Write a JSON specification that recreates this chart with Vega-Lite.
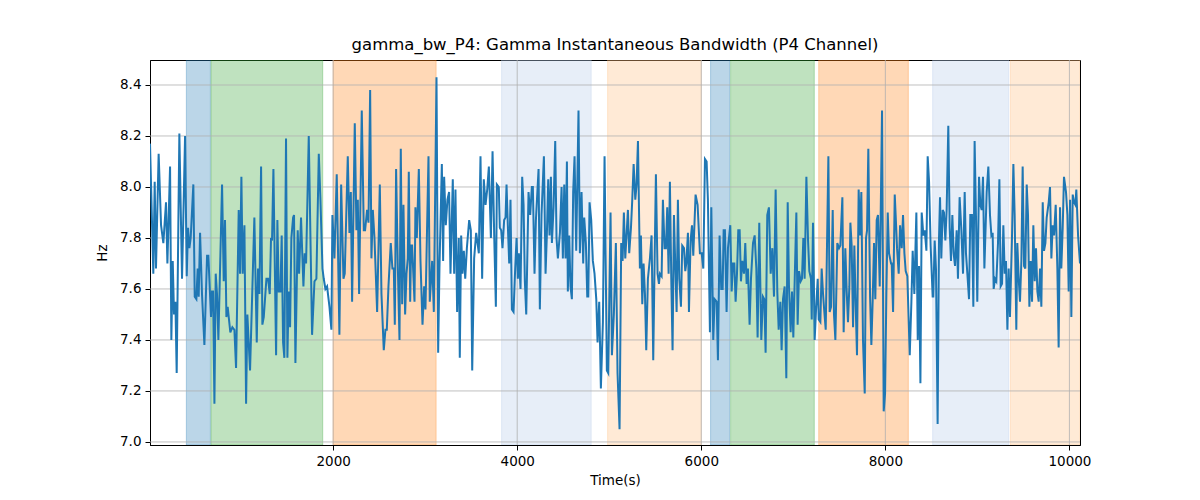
{
  "$schema": "https://vega.github.io/schema/vega-lite/v6.json",
  "width": 930,
  "height": 385,
  "autosize": "none",
  "padding": {"left": 150, "top": 60, "right": 120, "bottom": 55},
  "background": "white",
  "title": {
    "text": "gamma_bw_P4: Gamma Instantaneous Bandwidth (P4 Channel)",
    "font": "DejaVu Sans",
    "fontSize": 16.5,
    "fontWeight": "normal",
    "color": "black",
    "offset": 6
  },
  "config": {
    "view": {"stroke": "black", "strokeWidth": 1},
    "axis": {
      "labelFont": "DejaVu Sans",
      "labelFontSize": 13.5,
      "labelColor": "black",
      "titleFont": "DejaVu Sans",
      "titleFontSize": 13.5,
      "titleFontWeight": "normal",
      "titleColor": "black",
      "tickColor": "black",
      "tickSize": 5,
      "domainColor": "black",
      "grid": false
    }
  },
  "datasets": {
    "bands": [
      {"start": 405, "end": 666, "phase": "a"},
      {"start": 673, "end": 1887, "phase": "b"},
      {"start": 2000, "end": 3119, "phase": "c"},
      {"start": 3830, "end": 4804, "phase": "d"},
      {"start": 4982, "end": 6000, "phase": "e"},
      {"start": 6101, "end": 6308, "phase": "a"},
      {"start": 6319, "end": 7228, "phase": "b"},
      {"start": 7276, "end": 8250, "phase": "c"},
      {"start": 8514, "end": 9340, "phase": "d"},
      {"start": 9358, "end": 10115, "phase": "e"}
    ],
    "xgrid": [{"g": 2000}, {"g": 4000}, {"g": 6000}, {"g": 8000}, {"g": 10000}],
    "ygrid": [{"g": 7.0}, {"g": 7.2}, {"g": 7.4}, {"g": 7.6}, {"g": 7.8}, {"g": 8.0}, {"g": 8.2}, {"g": 8.4}],
    "series": [
      {"t":10,"v":8.17},{"t":46,"v":7.66},{"t":61,"v":8.02},{"t":75,"v":7.68},{"t":104,"v":8.13},{"t":130,"v":7.85},{"t":155,"v":7.78},{"t":184,"v":7.94},{"t":199,"v":7.70},{"t":228,"v":8.08},
      {"t":242,"v":7.40},{"t":257,"v":7.71},{"t":271,"v":7.50},{"t":286,"v":7.55},{"t":300,"v":7.27},{"t":329,"v":8.21},{"t":358,"v":7.64},{"t":391,"v":8.20},{"t":409,"v":7.65},{"t":423,"v":7.84},
      {"t":438,"v":7.76},{"t":452,"v":7.80},{"t":481,"v":8.01},{"t":496,"v":7.57},{"t":514,"v":7.56},{"t":528,"v":7.68},{"t":539,"v":7.57},{"t":554,"v":7.82},{"t":575,"v":7.58},{"t":601,"v":7.38},
      {"t":630,"v":7.73},{"t":644,"v":7.73},{"t":673,"v":7.49},{"t":684,"v":7.59},{"t":695,"v":7.59},{"t":710,"v":7.15},{"t":724,"v":7.66},{"t":738,"v":7.58},{"t":753,"v":7.40},{"t":793,"v":8.01},
      {"t":811,"v":7.63},{"t":825,"v":7.87},{"t":840,"v":7.49},{"t":854,"v":7.53},{"t":883,"v":7.43},{"t":905,"v":7.45},{"t":927,"v":7.44},{"t":945,"v":7.29},{"t":974,"v":7.91},{"t":988,"v":7.66},
      {"t":1003,"v":8.04},{"t":1017,"v":7.66},{"t":1036,"v":7.85},{"t":1054,"v":7.15},{"t":1068,"v":7.50},{"t":1097,"v":7.28},{"t":1144,"v":7.88},{"t":1170,"v":7.39},{"t":1184,"v":7.68},{"t":1199,"v":7.58},
      {"t":1217,"v":8.08},{"t":1231,"v":7.46},{"t":1246,"v":7.49},{"t":1275,"v":7.64},{"t":1293,"v":7.64},{"t":1311,"v":7.58},{"t":1325,"v":7.80},{"t":1336,"v":7.79},{"t":1351,"v":8.07},{"t":1380,"v":7.34},
      {"t":1394,"v":7.87},{"t":1409,"v":7.59},{"t":1427,"v":7.59},{"t":1441,"v":7.81},{"t":1456,"v":7.39},{"t":1470,"v":7.33},{"t":1488,"v":8.19},{"t":1503,"v":7.33},{"t":1517,"v":7.59},{"t":1532,"v":7.45},
      {"t":1546,"v":7.80},{"t":1565,"v":7.88},{"t":1575,"v":7.89},{"t":1590,"v":7.31},{"t":1615,"v":7.83},{"t":1630,"v":7.66},{"t":1651,"v":7.88},{"t":1677,"v":7.61},{"t":1691,"v":7.74},{"t":1706,"v":7.70},
      {"t":1735,"v":8.20},{"t":1771,"v":7.42},{"t":1797,"v":7.63},{"t":1818,"v":7.64},{"t":1844,"v":8.13},{"t":1862,"v":7.95},{"t":1884,"v":7.68},{"t":1898,"v":7.64},{"t":1916,"v":7.60},{"t":1934,"v":7.61},
      {"t":1960,"v":7.53},{"t":1981,"v":7.44},{"t":1992,"v":7.89},{"t":2014,"v":7.72},{"t":2039,"v":8.05},{"t":2068,"v":7.42},{"t":2087,"v":8.01},{"t":2112,"v":7.64},{"t":2126,"v":7.66},{"t":2159,"v":8.12},
      {"t":2177,"v":7.82},{"t":2192,"v":7.98},{"t":2206,"v":7.55},{"t":2235,"v":8.25},{"t":2253,"v":7.83},{"t":2268,"v":7.95},{"t":2282,"v":7.58},{"t":2311,"v":8.30},{"t":2333,"v":7.83},{"t":2347,"v":7.83},
      {"t":2369,"v":7.91},{"t":2384,"v":7.86},{"t":2402,"v":8.38},{"t":2416,"v":7.72},{"t":2431,"v":7.91},{"t":2449,"v":7.80},{"t":2478,"v":7.51},{"t":2507,"v":8.01},{"t":2525,"v":7.58},{"t":2550,"v":7.36},
      {"t":2568,"v":7.44},{"t":2583,"v":7.44},{"t":2601,"v":7.61},{"t":2626,"v":7.78},{"t":2644,"v":7.68},{"t":2659,"v":7.68},{"t":2670,"v":7.46},{"t":2684,"v":8.07},{"t":2702,"v":7.70},{"t":2721,"v":7.40},
      {"t":2735,"v":8.15},{"t":2750,"v":7.54},{"t":2764,"v":7.93},{"t":2782,"v":7.50},{"t":2797,"v":7.66},{"t":2811,"v":7.72},{"t":2822,"v":8.06},{"t":2837,"v":7.55},{"t":2847,"v":7.77},{"t":2858,"v":7.77},
      {"t":2884,"v":7.55},{"t":2894,"v":7.92},{"t":2909,"v":7.80},{"t":2931,"v":8.07},{"t":2949,"v":7.71},{"t":2971,"v":7.46},{"t":2989,"v":7.61},{"t":3003,"v":7.52},{"t":3036,"v":8.12},{"t":3050,"v":7.55},
      {"t":3076,"v":7.71},{"t":3094,"v":7.51},{"t":3123,"v":8.43},{"t":3141,"v":7.35},{"t":3155,"v":7.68},{"t":3181,"v":8.09},{"t":3195,"v":7.71},{"t":3206,"v":8.04},{"t":3224,"v":7.85},{"t":3242,"v":7.95},
      {"t":3260,"v":7.98},{"t":3275,"v":7.66},{"t":3300,"v":8.03},{"t":3315,"v":7.66},{"t":3329,"v":7.99},{"t":3347,"v":7.51},{"t":3365,"v":7.80},{"t":3376,"v":7.33},{"t":3391,"v":7.81},{"t":3405,"v":7.66},
      {"t":3420,"v":7.75},{"t":3435,"v":7.64},{"t":3453,"v":7.76},{"t":3478,"v":7.87},{"t":3496,"v":7.83},{"t":3511,"v":7.28},{"t":3532,"v":7.72},{"t":3554,"v":7.82},{"t":3569,"v":7.78},{"t":3583,"v":7.74},
      {"t":3601,"v":8.12},{"t":3619,"v":7.64},{"t":3637,"v":8.03},{"t":3656,"v":7.93},{"t":3674,"v":7.99},{"t":3692,"v":8.08},{"t":3714,"v":7.80},{"t":3732,"v":8.14},{"t":3750,"v":7.81},{"t":3768,"v":7.53},
      {"t":3779,"v":8.01},{"t":3800,"v":8.00},{"t":3811,"v":7.84},{"t":3826,"v":7.83},{"t":3840,"v":7.76},{"t":3858,"v":7.87},{"t":3873,"v":7.88},{"t":3884,"v":8.01},{"t":3898,"v":7.85},{"t":3913,"v":7.70},
      {"t":3927,"v":7.95},{"t":3942,"v":7.52},{"t":3960,"v":7.51},{"t":3978,"v":7.68},{"t":3993,"v":7.80},{"t":4007,"v":7.64},{"t":4018,"v":7.74},{"t":4036,"v":7.60},{"t":4054,"v":8.04},{"t":4069,"v":7.93},
      {"t":4083,"v":7.63},{"t":4098,"v":7.50},{"t":4123,"v":7.98},{"t":4141,"v":7.89},{"t":4159,"v":8.00},{"t":4170,"v":8.00},{"t":4188,"v":7.66},{"t":4203,"v":7.87},{"t":4232,"v":8.07},{"t":4246,"v":7.52},
      {"t":4264,"v":7.89},{"t":4290,"v":8.12},{"t":4308,"v":7.66},{"t":4322,"v":7.81},{"t":4337,"v":8.03},{"t":4351,"v":7.81},{"t":4366,"v":8.04},{"t":4377,"v":7.78},{"t":4395,"v":7.92},{"t":4413,"v":8.18},
      {"t":4427,"v":7.80},{"t":4442,"v":7.72},{"t":4464,"v":7.82},{"t":4482,"v":8.00},{"t":4496,"v":7.72},{"t":4511,"v":8.01},{"t":4525,"v":7.72},{"t":4540,"v":8.10},{"t":4550,"v":7.59},{"t":4565,"v":7.81},
      {"t":4579,"v":7.61},{"t":4594,"v":7.56},{"t":4608,"v":7.98},{"t":4623,"v":8.12},{"t":4641,"v":7.75},{"t":4666,"v":8.30},{"t":4681,"v":7.74},{"t":4699,"v":7.98},{"t":4717,"v":7.70},{"t":4728,"v":7.88},
      {"t":4746,"v":7.78},{"t":4761,"v":7.57},{"t":4772,"v":7.57},{"t":4786,"v":7.94},{"t":4804,"v":7.87},{"t":4822,"v":7.71},{"t":4840,"v":7.66},{"t":4859,"v":7.56},{"t":4873,"v":7.39},{"t":4891,"v":7.55},
      {"t":4909,"v":7.21},{"t":4931,"v":7.47},{"t":4949,"v":8.12},{"t":4974,"v":7.28},{"t":4989,"v":7.27},{"t":5014,"v":7.90},{"t":5029,"v":7.34},{"t":5050,"v":7.50},{"t":5072,"v":7.78},{"t":5090,"v":7.27},
      {"t":5112,"v":7.05},{"t":5130,"v":7.78},{"t":5145,"v":7.71},{"t":5159,"v":7.90},{"t":5174,"v":7.72},{"t":5188,"v":7.81},{"t":5203,"v":7.91},{"t":5217,"v":7.74},{"t":5236,"v":7.84},{"t":5250,"v":7.95},
      {"t":5265,"v":8.09},{"t":5283,"v":7.95},{"t":5297,"v":8.01},{"t":5312,"v":8.18},{"t":5333,"v":7.68},{"t":5344,"v":7.81},{"t":5359,"v":7.54},{"t":5373,"v":7.70},{"t":5388,"v":7.58},{"t":5402,"v":7.36},
      {"t":5420,"v":7.64},{"t":5442,"v":7.72},{"t":5460,"v":7.81},{"t":5478,"v":7.32},{"t":5493,"v":7.71},{"t":5507,"v":8.05},{"t":5525,"v":7.66},{"t":5540,"v":7.62},{"t":5551,"v":7.66},{"t":5569,"v":7.65},
      {"t":5583,"v":7.95},{"t":5601,"v":7.76},{"t":5616,"v":7.76},{"t":5630,"v":7.92},{"t":5645,"v":7.66},{"t":5659,"v":8.02},{"t":5674,"v":7.64},{"t":5688,"v":7.36},{"t":5703,"v":7.89},{"t":5717,"v":7.70},
      {"t":5732,"v":7.51},{"t":5746,"v":7.95},{"t":5761,"v":7.64},{"t":5779,"v":7.53},{"t":5793,"v":7.77},{"t":5812,"v":7.76},{"t":5826,"v":7.67},{"t":5837,"v":7.70},{"t":5855,"v":7.82},{"t":5866,"v":7.51},
      {"t":5884,"v":7.79},{"t":5899,"v":7.85},{"t":5913,"v":7.73},{"t":5938,"v":7.97},{"t":5960,"v":7.93},{"t":5985,"v":7.74},{"t":6004,"v":7.74},{"t":6022,"v":7.68},{"t":6040,"v":8.11},{"t":6058,"v":8.10},
      {"t":6072,"v":7.95},{"t":6094,"v":7.43},{"t":6109,"v":7.92},{"t":6130,"v":7.40},{"t":6145,"v":7.56},{"t":6167,"v":7.55},{"t":6181,"v":7.32},{"t":6199,"v":7.81},{"t":6217,"v":7.60},{"t":6232,"v":7.60},
      {"t":6243,"v":7.83},{"t":6257,"v":7.83},{"t":6275,"v":7.51},{"t":6290,"v":7.76},{"t":6315,"v":7.85},{"t":6330,"v":7.59},{"t":6344,"v":7.70},{"t":6359,"v":7.70},{"t":6373,"v":7.55},{"t":6388,"v":7.66},
      {"t":6402,"v":7.83},{"t":6417,"v":7.83},{"t":6431,"v":7.63},{"t":6446,"v":7.71},{"t":6464,"v":7.66},{"t":6478,"v":7.78},{"t":6493,"v":7.62},{"t":6507,"v":7.68},{"t":6525,"v":7.46},{"t":6540,"v":7.64},
      {"t":6562,"v":7.78},{"t":6580,"v":7.81},{"t":6598,"v":7.68},{"t":6612,"v":7.41},{"t":6630,"v":7.86},{"t":6652,"v":7.40},{"t":6670,"v":7.57},{"t":6685,"v":7.56},{"t":6699,"v":7.35},{"t":6717,"v":7.89},
      {"t":6735,"v":7.92},{"t":6754,"v":7.66},{"t":6772,"v":7.76},{"t":6790,"v":7.57},{"t":6808,"v":7.99},{"t":6826,"v":7.59},{"t":6841,"v":7.44},{"t":6859,"v":7.55},{"t":6873,"v":7.36},{"t":6888,"v":7.56},
      {"t":6906,"v":7.61},{"t":6924,"v":7.25},{"t":6939,"v":7.94},{"t":6953,"v":7.61},{"t":6971,"v":7.43},{"t":6986,"v":7.59},{"t":7000,"v":7.41},{"t":7018,"v":7.68},{"t":7033,"v":7.90},{"t":7047,"v":7.46},
      {"t":7062,"v":7.67},{"t":7080,"v":7.63},{"t":7094,"v":7.64},{"t":7109,"v":7.80},{"t":7123,"v":7.64},{"t":7142,"v":8.04},{"t":7160,"v":7.79},{"t":7174,"v":7.67},{"t":7192,"v":7.64},{"t":7200,"v":7.48},
      {"t":7214,"v":7.86},{"t":7232,"v":7.40},{"t":7247,"v":7.52},{"t":7265,"v":7.64},{"t":7276,"v":7.48},{"t":7294,"v":7.47},{"t":7308,"v":7.68},{"t":7323,"v":7.58},{"t":7337,"v":7.51},{"t":7352,"v":7.44},
      {"t":7381,"v":8.12},{"t":7395,"v":7.51},{"t":7410,"v":7.53},{"t":7428,"v":7.91},{"t":7442,"v":7.50},{"t":7457,"v":7.40},{"t":7478,"v":7.78},{"t":7497,"v":7.76},{"t":7511,"v":7.77},{"t":7533,"v":7.96},
      {"t":7547,"v":7.43},{"t":7565,"v":7.76},{"t":7580,"v":7.59},{"t":7594,"v":7.47},{"t":7609,"v":7.61},{"t":7620,"v":7.86},{"t":7634,"v":7.77},{"t":7649,"v":7.45},{"t":7663,"v":7.77},{"t":7678,"v":7.53},
      {"t":7692,"v":7.34},{"t":7710,"v":7.99},{"t":7725,"v":7.81},{"t":7739,"v":7.98},{"t":7757,"v":7.40},{"t":7776,"v":7.19},{"t":7790,"v":7.80},{"t":7801,"v":7.83},{"t":7815,"v":8.15},{"t":7834,"v":7.57},
      {"t":7848,"v":7.38},{"t":7862,"v":7.55},{"t":7877,"v":7.78},{"t":7891,"v":7.56},{"t":7906,"v":7.87},{"t":7920,"v":7.89},{"t":7939,"v":7.61},{"t":7949,"v":7.88},{"t":7964,"v":8.30},{"t":7982,"v":7.12},
      {"t":7997,"v":7.19},{"t":8011,"v":7.58},{"t":8026,"v":7.90},{"t":8040,"v":7.74},{"t":8062,"v":7.70},{"t":8069,"v":7.70},{"t":8084,"v":7.51},{"t":8102,"v":7.97},{"t":8112,"v":7.89},{"t":8127,"v":7.76},
      {"t":8145,"v":7.66},{"t":8160,"v":7.85},{"t":8178,"v":7.76},{"t":8192,"v":7.89},{"t":8207,"v":7.74},{"t":8221,"v":7.67},{"t":8239,"v":7.65},{"t":8265,"v":7.34},{"t":8283,"v":7.55},{"t":8297,"v":7.75},
      {"t":8315,"v":7.58},{"t":8323,"v":7.70},{"t":8337,"v":7.90},{"t":8352,"v":7.40},{"t":8366,"v":7.69},{"t":8381,"v":7.23},{"t":8395,"v":7.90},{"t":8413,"v":7.81},{"t":8428,"v":7.83},{"t":8446,"v":7.75},
      {"t":8460,"v":8.12},{"t":8475,"v":8.02},{"t":8492,"v":7.77},{"t":8514,"v":7.57},{"t":8521,"v":7.57},{"t":8536,"v":7.79},{"t":8550,"v":7.68},{"t":8568,"v":7.07},{"t":8583,"v":7.80},{"t":8594,"v":7.96},
      {"t":8608,"v":7.72},{"t":8623,"v":7.91},{"t":8637,"v":7.90},{"t":8652,"v":7.79},{"t":8666,"v":7.91},{"t":8684,"v":8.24},{"t":8699,"v":7.84},{"t":8713,"v":7.71},{"t":8728,"v":7.89},{"t":8742,"v":7.74},
      {"t":8757,"v":7.69},{"t":8775,"v":7.83},{"t":8789,"v":7.64},{"t":8807,"v":7.96},{"t":8826,"v":7.83},{"t":8844,"v":7.66},{"t":8862,"v":7.98},{"t":8876,"v":7.74},{"t":8891,"v":7.66},{"t":8909,"v":7.56},
      {"t":8923,"v":7.89},{"t":8941,"v":7.89},{"t":8956,"v":7.53},{"t":8970,"v":8.18},{"t":8985,"v":7.88},{"t":8999,"v":7.55},{"t":9018,"v":8.04},{"t":9032,"v":7.93},{"t":9047,"v":7.91},{"t":9061,"v":8.04},
      {"t":9076,"v":7.68},{"t":9101,"v":7.98},{"t":9119,"v":8.08},{"t":9137,"v":7.89},{"t":9152,"v":7.81},{"t":9166,"v":7.82},{"t":9177,"v":7.60},{"t":9191,"v":7.64},{"t":9206,"v":7.63},{"t":9224,"v":7.78},
      {"t":9239,"v":8.03},{"t":9253,"v":7.61},{"t":9268,"v":7.62},{"t":9282,"v":7.85},{"t":9297,"v":7.66},{"t":9311,"v":7.71},{"t":9326,"v":7.44},{"t":9340,"v":7.68},{"t":9354,"v":7.49},{"t":9376,"v":7.80},
      {"t":9391,"v":8.09},{"t":9405,"v":7.89},{"t":9423,"v":7.44},{"t":9434,"v":7.78},{"t":9449,"v":7.64},{"t":9463,"v":7.55},{"t":9478,"v":7.71},{"t":9492,"v":8.08},{"t":9507,"v":7.69},{"t":9521,"v":7.68},
      {"t":9536,"v":8.01},{"t":9550,"v":7.89},{"t":9565,"v":7.53},{"t":9579,"v":7.71},{"t":9594,"v":7.55},{"t":9608,"v":7.85},{"t":9623,"v":7.63},{"t":9637,"v":7.76},{"t":9652,"v":7.59},{"t":9666,"v":7.55},
      {"t":9681,"v":7.68},{"t":9695,"v":7.53},{"t":9710,"v":7.94},{"t":9724,"v":7.75},{"t":9739,"v":7.78},{"t":9753,"v":7.88},{"t":9775,"v":7.94},{"t":9789,"v":8.00},{"t":9804,"v":7.72},{"t":9818,"v":7.85},
      {"t":9833,"v":7.81},{"t":9851,"v":7.93},{"t":9869,"v":7.68},{"t":9883,"v":7.37},{"t":9898,"v":7.92},{"t":9912,"v":7.68},{"t":9927,"v":7.84},{"t":9941,"v":8.04},{"t":9963,"v":7.98},{"t":9978,"v":7.89},
      {"t":9992,"v":7.59},{"t":10007,"v":7.95},{"t":10021,"v":7.49},{"t":10036,"v":7.97},{"t":10050,"v":7.94},{"t":10065,"v":7.93},{"t":10075,"v":7.99},{"t":10094,"v":7.81},{"t":10115,"v":7.70}
    ]
  },
  "layer": [
    {
      "data": {"name": "bands"},
      "mark": {"type": "rect", "fillOpacity": 0.3, "strokeOpacity": 0.3, "strokeWidth": 1, "clip": true},
      "encoding": {
        "x": {
          "field": "start",
          "type": "quantitative",
          "scale": {"domain": [10, 10115], "nice": false, "zero": false},
          "axis": {
            "title": "Time(s)",
            "values": [2000, 4000, 6000, 8000, 10000],
            "format": "d",
            "labelPadding": 4,
            "titlePadding": 6
          }
        },
        "x2": {"field": "end"},
        "y": {"datum": 6.988, "type": "quantitative"},
        "y2": {"datum": 8.498},
        "color": {
          "field": "phase",
          "type": "nominal",
          "legend": null,
          "scale": {
            "domain": ["a", "b", "c", "d", "e"],
            "range": ["#1f77b4", "#2ca02c", "#ff7f0e", "#aec7e8", "#ffbb78"]
          }
        },
        "stroke": {"field": "phase", "type": "nominal", "legend": null, "scale": {
            "domain": ["a", "b", "c", "d", "e"],
            "range": ["#1f77b4", "#2ca02c", "#ff7f0e", "#aec7e8", "#ffbb78"]
          }}
      }
    },
    {
      "data": {"name": "xgrid"},
      "mark": {"type": "rule", "color": "#b0b0b0", "strokeWidth": 0.8},
      "encoding": {"x": {"field": "g", "type": "quantitative"}}
    },
    {
      "data": {"name": "ygrid"},
      "mark": {"type": "rule", "color": "#b0b0b0", "strokeWidth": 0.8},
      "encoding": {"y": {"field": "g", "type": "quantitative"}}
    },
    {
      "data": {"name": "series"},
      "mark": {"type": "line", "color": "#1f77b4", "strokeWidth": 2, "clip": true},
      "encoding": {
        "x": {"field": "t", "type": "quantitative"},
        "y": {
          "field": "v",
          "type": "quantitative",
          "scale": {"domain": [6.988, 8.498], "nice": false, "zero": false},
          "axis": {
            "title": "Hz",
            "values": [7.0, 7.2, 7.4, 7.6, 7.8, 8.0, 8.2, 8.4],
            "format": ".1f",
            "labelPadding": 4,
            "titlePadding": 10
          }
        }
      }
    }
  ]
}
